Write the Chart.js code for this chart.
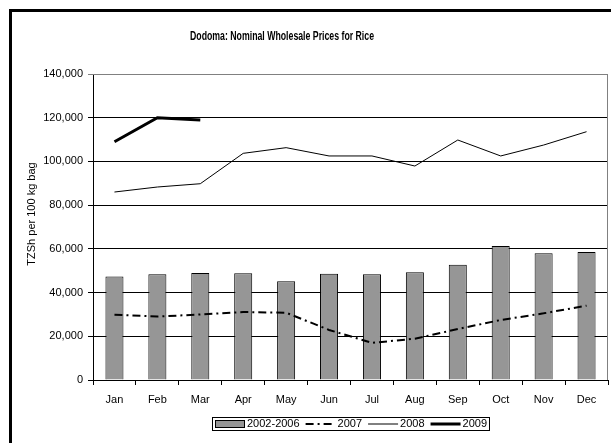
<!DOCTYPE html>
<html>
<head>
<meta charset="utf-8">
<title>Dodoma rice prices</title>
<script src="https://cdn.jsdelivr.net/npm/chart.js@4.4.1/dist/chart.umd.min.js"></script>
<style>
  html, body { margin: 0; padding: 0; background: #fff; overflow: hidden; }
  #wrap { position: relative; width: 611px; height: 443px; }
</style>
</head>
<body>
<div id="wrap"><canvas id="chart" width="611" height="443"></canvas></div>
<script>
const months = ["Jan", "Feb", "Mar", "Apr", "May", "Jun", "Jul", "Aug", "Sep", "Oct", "Nov", "Dec"];

// TZSh per 100 kg bag
const avg2002to2006 = [47300, 48400, 48950, 48800, 45200, 48650, 48350, 49250, 52750, 61300, 57950, 58550];
const prices2007 = [29900, 29000, 30000, 31100, 30800, 22900, 17000, 18900, 23300, 27450, 30500, 34000];
const prices2008 = [86000, 88300, 89800, 103700, 106300, 102500, 102500, 97900, 109800, 102500, 107500, 113600];
const prices2009 = [109000, 120000, 119000, null, null, null, null, null, null, null, null, null];

const titleText = "Dodoma: Nominal Wholesale Prices for Rice";
const yTitle = "TZSh per 100 kg bag";
const FONT = "'Liberation Sans', Arial, sans-serif";

// frame, title, y title, plot border and the boxed legend
const decorations = {
  id: "decorations",
  afterDraw(chart) {
    const ctx = chart.ctx;
    const area = chart.chartArea;
    ctx.save();

    ctx.fillStyle = "#000";
    ctx.fillRect(9, 9, 602, 3);
    ctx.fillRect(9, 9, 3, 434);

    // narrow bold title, squeezed to 184px
    ctx.save();
    ctx.font = "bold 12px " + FONT;
    ctx.textAlign = "center";
    ctx.textBaseline = "middle";
    const tw = ctx.measureText(titleText).width;
    ctx.translate(282, 37);
    ctx.scale(184 / tw, 1);
    ctx.fillText(titleText, 0, 0);
    ctx.restore();

    ctx.save();
    ctx.translate(32, 214);
    ctx.rotate(-Math.PI / 2);
    ctx.font = "11px " + FONT;
    ctx.textAlign = "center";
    ctx.textBaseline = "middle";
    ctx.fillText(yTitle, 0, 0);
    ctx.restore();

    ctx.strokeStyle = "#808080";
    ctx.lineWidth = 1;
    ctx.beginPath();
    ctx.moveTo(area.left, area.top + 0.5);
    ctx.lineTo(area.right - 0.5, area.top + 0.5);
    ctx.lineTo(area.right - 0.5, area.bottom);
    ctx.stroke();

    // legend
    const boxL = 212, boxT = 417, boxH = 13, sw = 30, textGap = 2, itemGap = 6;
    ctx.font = "11px " + FONT;
    ctx.textAlign = "left";
    const items = chart.data.datasets.map(ds => ({ ds, w: ctx.measureText(ds.label).width }));
    let total = 3;
    items.forEach((it, i) => { total += sw + textGap + it.w + (i < items.length - 1 ? itemGap : 2); });
    ctx.strokeStyle = "#000";
    ctx.lineWidth = 1;
    ctx.strokeRect(boxL + 0.5, boxT + 0.5, Math.round(total), boxH);
    let x = boxL + 3;
    const midY = boxT + boxH / 2 + 0.5;
    items.forEach(it => {
      const ds = it.ds;
      if (ds.type === "bar") {
        ctx.fillStyle = ds.backgroundColor;
        ctx.fillRect(x, midY - 4, sw, 8);
        ctx.strokeStyle = "#000";
        ctx.lineWidth = 1;
        ctx.strokeRect(x + 0.5, midY - 3.5, sw - 1, 7);
      } else {
        ctx.strokeStyle = ds.borderColor;
        ctx.lineWidth = ds.borderWidth;
        ctx.setLineDash(ds.borderDash || []);
        ctx.beginPath();
        ctx.moveTo(x, midY);
        ctx.lineTo(x + sw, midY);
        ctx.stroke();
        ctx.setLineDash([]);
      }
      ctx.fillStyle = "#000";
      ctx.textBaseline = "middle";
      ctx.fillText(ds.label, x + sw + textGap, midY);
      x += sw + textGap + it.w + itemGap;
    });
    ctx.restore();
  }
};

new Chart(document.getElementById("chart"), {
  data: {
    labels: months,
    datasets: [
      {
        type: "bar",
        label: "2002-2006",
        data: avg2002to2006,
        backgroundColor: "#969696",
        borderColor: "#000",
        borderWidth: 1,
        categoryPercentage: 0.42,
        barPercentage: 1,
        order: 4
      },
      {
        type: "line",
        label: "2007",
        data: prices2007,
        borderColor: "#000",
        borderWidth: 2,
        borderDash: [8, 4, 2, 4],
        pointRadius: 0,
        tension: 0,
        order: 3
      },
      {
        type: "line",
        label: "2008",
        data: prices2008,
        borderColor: "#000",
        borderWidth: 1,
        pointRadius: 0,
        tension: 0,
        order: 2
      },
      {
        type: "line",
        label: "2009",
        data: prices2009,
        borderColor: "#000",
        borderWidth: 3,
        pointRadius: 0,
        tension: 0,
        spanGaps: false,
        order: 1
      }
    ]
  },
  options: {
    responsive: false,
    animation: false,
    layout: { padding: { left: 0, right: 3, top: 74, bottom: 0 } },
    plugins: {
      legend: { display: false },
      title: { display: false },
      tooltip: { enabled: false }
    },
    scales: {
      x: {
        offset: true,
        grid: { offset: true, drawOnChartArea: false, drawTicks: true, tickLength: 5, color: "#000" },
        border: { color: "#000" },
        ticks: { color: "#000", font: { family: FONT, size: 11 }, padding: 8, maxRotation: 0 },
        afterFit(scale) { scale.height = 63; }
      },
      y: {
        min: 0,
        max: 140000,
        ticks: { stepSize: 20000, color: "#000", font: { family: FONT, size: 11 }, padding: 5 },
        grid: {
          color: ctx => (ctx.tick && ctx.tick.value === 140000 ? "#808080" : "#000"),
          tickLength: 5
        },
        border: { color: "#000" },
        afterFit(scale) { scale.width = 93; }
      }
    }
  },
  plugins: [decorations]
});
</script>
</body>
</html>
